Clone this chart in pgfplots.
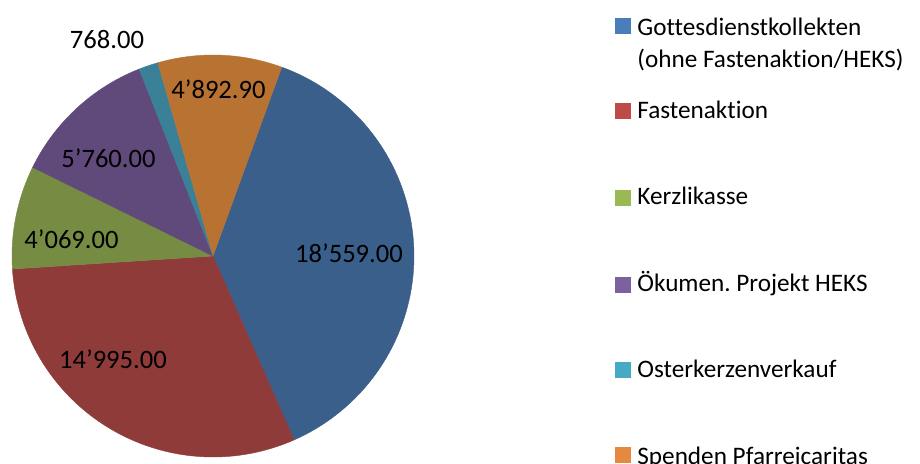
\documentclass[border=0pt]{standalone}
\usepackage{pgfplots}
\usepackage{pgfplotstable}
\pgfplotsset{compat=1.18}
\usepackage{fontspec}
\setmainfont{Carlito}[Ligatures={NoCommon}]
\frenchspacing
\definecolor{sblue}{HTML}{3A5F8B}
\definecolor{sred}{HTML}{8E3B3A}
\definecolor{sgreen}{HTML}{778C43}
\definecolor{spurple}{HTML}{604A7B}
\definecolor{steal}{HTML}{3A8096}
\definecolor{sorange}{HTML}{B87333}
\definecolor{lblue}{HTML}{4A7EBB}
\definecolor{lred}{HTML}{BE4B48}
\definecolor{lgreen}{HTML}{98B954}
\definecolor{lpurple}{HTML}{7D60A0}
\definecolor{lteal}{HTML}{46AAC5}
\definecolor{lorange}{HTML}{E6893F}
\pgfplotstableread{
name value
G 18559
F 14995
K 4069
O 5760
E 768
S 4892.90
}\data
\begin{document}
\begin{tikzpicture}[
  lab/.style={font=\fontsize{13.3}{16}\selectfont, inner sep=0pt},
  leg/.style={font=\fontsize{12.6}{15}\selectfont, inner sep=0pt, anchor=base west},
]
\useasboundingbox (0,0) rectangle (460pt,231.5pt);
\clip (0,0) rectangle (460pt,231.5pt);
\pgfplotstablegetelem{0}{value}\of\data \let\vA\pgfplotsretval
\pgfplotstablegetelem{1}{value}\of\data \let\vB\pgfplotsretval
\pgfplotstablegetelem{2}{value}\of\data \let\vC\pgfplotsretval
\pgfplotstablegetelem{3}{value}\of\data \let\vD\pgfplotsretval
\pgfplotstablegetelem{4}{value}\of\data \let\vE\pgfplotsretval
\pgfplotstablegetelem{5}{value}\of\data \let\vF\pgfplotsretval
\edef\total{\fpeval{\vA+\vB+\vC+\vD+\vE+\vF}}
\def\a{20}
\edef\bA{\fpeval{round(\a+360*\vA/\total,4)}}
\edef\bB{\fpeval{round(\bA+360*\vB/\total,4)}}
\edef\bC{\fpeval{round(\bB+360*\vC/\total,4)}}
\edef\bD{\fpeval{round(\bC+360*\vD/\total,4)}}
\edef\bE{\fpeval{round(\bD+360*\vE/\total,4)}}
\edef\bF{\fpeval{round(\bE+360*\vF/\total,4)}}
\begin{axis}[
  at={(0,0)}, anchor=south west,
  scale only axis, width=460pt, height=231.5pt,
  xmin=0, xmax=920, ymin=0, ymax=463,
  hide axis, clip=false,
]
\addplot[fill=sblue, draw=sblue, line width=0.2pt, domain=\a:\bA, samples=80] ({213+201*sin(x)},{207+201*cos(x)}) -- (213,207) -- cycle;
\addplot[fill=sred, draw=sred, line width=0.2pt, domain=\bA:\bB, samples=80] ({213+201*sin(x)},{207+201*cos(x)}) -- (213,207) -- cycle;
\addplot[fill=sgreen, draw=sgreen, line width=0.2pt, domain=\bB:\bC, samples=30] ({213+201*sin(x)},{207+201*cos(x)}) -- (213,207) -- cycle;
\addplot[fill=spurple, draw=spurple, line width=0.2pt, domain=\bC:\bD, samples=30] ({213+201*sin(x)},{207+201*cos(x)}) -- (213,207) -- cycle;
\addplot[fill=steal, draw=steal, line width=0.2pt, domain=\bD:\bE, samples=10] ({213+201*sin(x)},{207+201*cos(x)}) -- (213,207) -- cycle;
\addplot[fill=sorange, draw=sorange, line width=0.2pt, domain=\bE:\bF, samples=30] ({213+201*sin(x)},{207+201*cos(x)}) -- (213,207) -- cycle;
% data labels
\node[lab, anchor=base] at (107,415) {768.00};
\node[lab, anchor=base] at (218.5,365) {4’892.90};
\node[lab, anchor=base] at (108.5,296) {5’760.00};
\node[lab, anchor=base] at (71.5,215) {4’069.00};
\node[lab, anchor=base] at (349,201) {18’559.00};
\node[lab, anchor=base] at (113,95) {14’995.00};
% legend
\addplot[only marks, mark=square*, mark size=3.75pt, mark options={draw=lblue, fill=lblue}] coordinates {(622.5,437.5)};
\addplot[only marks, mark=square*, mark size=3.75pt, mark options={draw=lred, fill=lred}] coordinates {(622.5,352.5)};
\addplot[only marks, mark=square*, mark size=3.75pt, mark options={draw=lgreen, fill=lgreen}] coordinates {(622.5,265.5)};
\addplot[only marks, mark=square*, mark size=3.75pt, mark options={draw=lpurple, fill=lpurple}] coordinates {(622.5,178.5)};
\addplot[only marks, mark=square*, mark size=3.75pt, mark options={draw=lteal, fill=lteal}] coordinates {(622.5,93.5)};
\addplot[only marks, mark=square*, mark size=3.75pt, mark options={draw=lorange, fill=lorange}] coordinates {(622.5,8.5)};
\node[leg] at (637,428) {Gottesdienstkollekten};
\node[leg] at (637,396) {(ohne Fastenaktion/HEKS)};
\node[leg] at (637,345) {Fastenaktion};
\node[leg] at (637,259) {Kerzlikasse};
\node[leg] at (637,172) {Ökumen. Projekt HEKS};
\node[leg] at (637,86) {Osterkerzenverkauf};
\node[leg] at (637,-1) {Spenden Pfarreicaritas};
\end{axis}
\end{tikzpicture}
\end{document}
